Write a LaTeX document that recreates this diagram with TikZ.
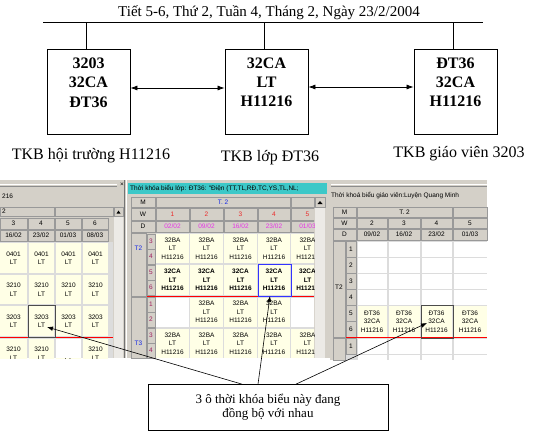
\documentclass[tikz,border=0pt]{standalone}
\usepackage{fontspec}
\setmainfont{Liberation Serif}
\newfontfamily\uifont{Liberation Sans}
\usetikzlibrary{arrows.meta, positioning, calc}

\definecolor{panelgray}{RGB}{212,208,200}
\definecolor{trackgray}{RGB}{236,234,230}
\definecolor{linegray}{RGB}{220,220,220}
\definecolor{cellyellow}{RGB}{255,255,230}
\definecolor{titleteal}{RGB}{60,200,200}
\definecolor{weekred}{RGB}{235,40,40}
\definecolor{datepink}{RGB}{230,50,230}
\definecolor{periodred}{RGB}{160,30,90}
\definecolor{groupblue}{RGB}{20,40,230}

\tikzset{
  tkbbox/.style={draw, line width=0.8pt, minimum width=83pt, minimum height=85pt, inner sep=0pt},
  boxtext/.style={inner sep=0pt, align=center, font=\fontsize{16}{19.3}\selectfont\bfseries},
  tkblabel/.style={inner sep=0pt, anchor=base, font=\fontsize{16}{18}\selectfont},
  link/.style={{Latex[length=7pt,width=5pt]}-{Latex[length=7pt,width=5pt]}, line width=0.7pt},
  hdr/.style={fill=panelgray, draw=black!40, line width=0.5pt},
  ui/.style={inner sep=0pt, align=center, font=\uifont\fontsize{6.5}{8.5}\selectfont},
  uib/.style={ui, font=\uifont\bfseries\fontsize{6.5}{8.5}\selectfont},
  callout/.style={-{Latex[length=6pt,width=4.5pt]}, line width=0.6pt},
}

\begin{document}
\begin{tikzpicture}[x=1pt, y=-1pt]
\useasboundingbox (0,0) rectangle (538,434);

% Title and bus line
\node[inner sep=0pt, anchor=base, font=\fontsize{15}{17}\selectfont] (title) at (269,16.5) {Tiết 5-6, Thứ 2, Tuần 4, Tháng 2, Ngày 23/2/2004};
\coordinate (busL) at (43,22);
\coordinate (busR) at (483,22);
\draw[line width=0.7pt] (busL) -- (busR);

% The three timetables
\node[tkbbox] (hoitruong) at (88.5,91.5) {};
\node[tkbbox] (lop) at (266.5,91.5) {};
\node[tkbbox] (giaovien) at (455.5,91.5) {};
\node[boxtext, below=9pt of hoitruong.north] (htText) {3203\\32CA\\ĐT36};
\node[boxtext, below=9pt of lop.north] (lopText) {32CA\\LT\\H11216};
\node[boxtext, below=9pt of giaovien.north] (gvText) {ĐT36\\32CA\\H11216};
\foreach \b in {hoitruong, lop, giaovien}
  \draw[line width=0.7pt] ([xshift=-2pt]\b.north) -- ([xshift=-2pt]\b.north |- busL);
\draw[link] ([yshift=3.5pt]hoitruong.east) -- ([yshift=3.5pt]lop.west);
\draw[link] ([yshift=4.5pt]lop.east) -- ([yshift=4.5pt]giaovien.west);

% Labels
\node[tkblabel] (lblHT) at (91,159) {TKB hội trường H11216};
\node[tkblabel] (lblLop) at (270,161) {TKB lớp ĐT36};
\node[tkblabel] (lblGV) at (459,157) {TKB giáo viên 3203};

% ---------------- Left panel (hoi truong)
\fill[panelgray] (0,180) rectangle (128,358);
\draw[white] (0,184) -- (117,184);
\draw[black!45] (0,186) -- (117,186);
\node[ui] (closeL) at (122,185) {×};
\node[ui, anchor=west] (capL) at (2,196) {216};
\draw[hdr] (0,207) rectangle (54,216);
\draw[hdr] (55,207) rectangle (113,216);
\node[ui, anchor=west] (mL) at (2,211.5) {2};
\foreach \xa/\xb/\w/\d [count=\c] in {0/27/3/{16/02}, 28/54/4/{23/02}, 55/81/5/{01/03}, 82/108/6/{08/03}}{
  \draw[hdr] (\xa,218) rectangle (\xb,229);
  \draw[hdr] (\xa,230) rectangle (\xb,241);
  \node[ui] (wL\c) at ({(\xa+\xb)/2},223.5) {\w};
  \node[ui] (dL\c) at ({(\xa+\xb)/2},235.5) {\d};
}
\fill[linegray] (0,242) rectangle (113,358);
\begin{scope}
  \clip (0,242) rectangle (113,358);
  \foreach \ya/\yb/\code [count=\r] in {243/273/0401, 275/304/3210, 306/336/3203, 339/368/3210}{
    \foreach \xa/\xb [count=\c] in {0/27, 29/54, 56/81, 83/108}{
      \fill[cellyellow] (\xa,\ya) rectangle (\xb,\yb);
      \node[ui] (L\r-\c) at ({(\xa+\xb)/2},{(\ya+\yb)/2}) {\code\\LT};
    }
  }
  \fill[white] (56,339) rectangle (81,358);
\end{scope}
\draw[red] (0,337.5) -- (113,337.5);
\draw[black!70, line width=0.8pt] (28,305) rectangle (55,337);
% scrollbar and splitter
\fill[trackgray] (114,216) rectangle (123,358);
\draw[hdr] (114,207) rectangle (123,216);
\fill (116.5,213.5) -- (120.5,213.5) -- (118.5,210.5) -- cycle;
\draw[black!55] (124,180) -- (124,358);
\draw[white] (126,180) -- (126,358);

% ---------------- Middle panel (lop)
\fill[panelgray] (128,180) rectangle (330,358);
\fill[titleteal] (128,183) rectangle (327,194);
\begin{scope}
  \clip (128,183) rectangle (327,194);
  \node[ui, anchor=west] (capM) at (130,188.5) {Thời khóa biểu lớp: ĐT36: "Điện (TT,TL,RĐ,TC,YS,TL,NL;};
\end{scope}
\draw[hdr] (131,197) rectangle (155,207);
\draw[hdr] (131,208) rectangle (155,220);
\draw[hdr] (131,221) rectangle (155,232);
\node[ui] (mM) at (143,202) {M};
\node[ui] (wM) at (143,214) {W};
\node[ui] (dM) at (143,226.5) {D};
\draw[hdr] (156,197) rectangle (290,207);
\draw[hdr] (291,197) rectangle (314,207);
\node[ui, text=groupblue] (t2M) at (223,202) {T. 2};
\begin{scope}
  \clip (156,195) rectangle (314,358);
  \foreach \xa/\xb/\d [count=\c] in {156/189/{02/02}, 190/223/{09/02}, 224/257/{16/02}, 258/290/{23/02}, 291/324/{01/03}}{
    \draw[hdr] (\xa,208) rectangle (\xb,220);
    \draw[hdr] (\xa,221) rectangle (\xb,232);
    \node[ui, text=weekred] (wM\c) at ({(\xa+\xb)/2},214) {\c};
    \node[ui, text=datepink] (dM\c) at ({(\xa+\xb)/2},226.5) {\d};
  }
  \fill[linegray] (156,233) rectangle (314,358);
  \foreach \xa/\xb [count=\c] in {156/189, 190/223, 224/257, 258/290, 291/324}{
    % T2, tiet 3-4
    \fill[cellyellow] (\xa,234) rectangle (\xb,263);
    \node[ui] (M34-\c) at ({(\xa+\xb)/2},248.5) {32BA\\LT\\H11216};
    % T2, tiet 5-6
    \fill[cellyellow] (\xa,265) rectangle (\xb,295);
    \node[uib] (M56-\c) at ({(\xa+\xb)/2},280) {32CA\\LT\\H11216};
    % T3, tiet 3-4
    \fill[cellyellow] (\xa,329) rectangle (\xb,358);
    \node[ui] (N34-\c) at ({(\xa+\xb)/2},343.5) {32BA\\LT\\H11216};
  }
  \foreach \xa/\xb [count=\c] in {190/223, 224/257, 258/290}{
    % T3, tiet 1-2
    \fill[cellyellow] (\xa,298) rectangle (\xb,327);
    \node[ui] (N12-\c) at ({(\xa+\xb)/2},312) {32BA\\LT\\H11216};
  }
  \fill[white] (156,298) rectangle (189,327);
  \fill[white] (291,298) rectangle (324,327);
\end{scope}
% day / period columns
\draw[hdr] (131,233) rectangle (146,296);
\draw[hdr] (131,297) rectangle (146,358);
\node[ui, text=groupblue] (gT2) at (138.5,248) {T2};
\node[ui, text=groupblue] (gT3) at (138.5,343) {T3};
\foreach \ya/\p [count=\c] in {234/3, 249/4, 265/5, 280/6, 297/1, 312/2, 328/3, 343/4}{
  \draw[hdr] (147,\ya) rectangle (155,\ya+15);
  \node[ui, text=periodred] (pM\c) at (151,\ya+7.5) {\p};
}
\draw[red] (147,296.5) -- (314,296.5);
\draw[blue!80, line width=0.8pt] (258,264) rectangle (291,296);
\draw[hdr] (315,197) rectangle (325,207);
\fill (317.5,204) -- (322.5,204) -- (320,201) -- cycle;
\fill[trackgray] (315,208) rectangle (325,358);

% ---------------- Right panel (giao vien)
\fill[panelgray] (330,180) rectangle (487,360);
\draw[white] (331,184) -- (487,184);
\draw[black!45] (331,186) -- (487,186);
\node[ui, anchor=west] (capR) at (331,196) {Thời khoá biểu giáo viên:Luyện Quang Minh};
\draw[hdr] (333,207) rectangle (356,217);
\draw[hdr] (333,218) rectangle (356,228);
\draw[hdr] (333,229) rectangle (356,240);
\node[ui] (mR) at (344.5,212) {M};
\node[ui] (wR) at (344.5,223) {W};
\node[ui] (dR) at (344.5,234.5) {D};
\draw[hdr] (357,207) rectangle (452,217);
\draw[hdr] (453,207) rectangle (487,217);
\node[ui] (t2R) at (404.5,212) {T. 2};
\fill[linegray] (346,241) rectangle (487,360);
\foreach \xa/\xb/\w/\d [count=\c] in {357/387/2/{09/02}, 388/420/3/{16/02}, 421/452/4/{23/02}, 453/487/5/{01/03}}{
  \draw[hdr] (\xa,218) rectangle (\xb,228);
  \draw[hdr] (\xa,229) rectangle (\xb,240);
  \node[ui] (wR\c) at ({(\xa+\xb)/2},223) {\w};
  \node[ui] (dR\c) at ({(\xa+\xb)/2},234.5) {\d};
  \foreach \ya in {241, 257, 273, 289, 338, 354}
    \fill[white] (\xa+1,\ya+1) rectangle (\xb,{min(\ya+16,360)});
  \fill[cellyellow] (\xa+1,306) rectangle (\xb,337);
  \node[ui] (R56-\c) at ({(\xa+\xb)/2},321.5) {ĐT36\\32CA\\H11216};
}
\draw[hdr] (333,241) rectangle (345,337);
\draw[hdr] (333,338) rectangle (345,360);
\node[ui] (gT2R) at (339,287) {T2};
\foreach \ya/\p [count=\c] in {241/1, 257/2, 273/3, 289/4, 305/5, 321/6, 338/1}{
  \draw[hdr] (346,\ya) rectangle (356,\ya+16);
  \node[ui] (pR\c) at (351,\ya+8) {\p};
}
\draw[red] (346,337.5) -- (487,337.5);
\draw[black!70, line width=0.8pt] (421,305) rectangle (453,338);

% ---------------- Callout
\node[draw, line width=0.7pt, minimum width=240pt, minimum height=46pt, align=center,
      font=\fontsize{13}{14}\selectfont] (note) at (268,407.5) {3 ô thời khóa biểu này đang\\đồng bộ với nhau};
\coordinate (tipL) at (47,327);
\coordinate (tipM) at (270,296);
\coordinate (tipR) at (427,323);
\draw[callout] ([xshift=-26pt]note.north) -- (tipL);
\draw[callout] ([xshift=-10pt]note.north) -- (tipM);
\draw[callout] ([xshift=28pt]note.north) -- (tipR);
\end{tikzpicture}
\end{document}
